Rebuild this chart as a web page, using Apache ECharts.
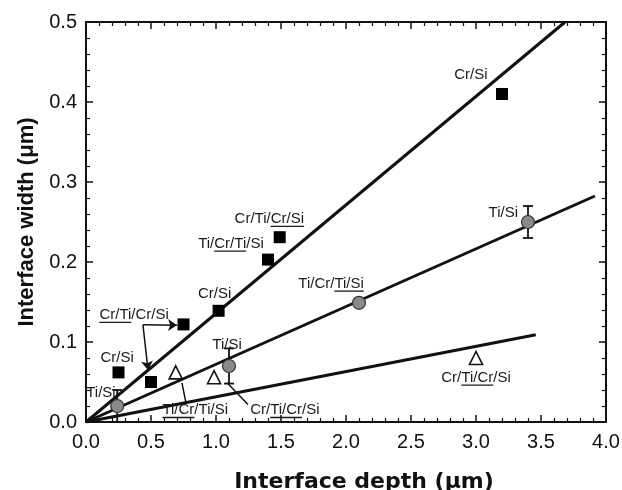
<!DOCTYPE html>
<html>
<head>
<meta charset="utf-8">
<script src="https://cdn.jsdelivr.net/npm/echarts/dist/echarts.min.js"></script>
<style>
  html, body { margin: 0; padding: 0; background: #fff; }
  #chart { width: 622px; height: 490px; }
</style>
</head>
<body>
<div id="chart"></div>
<script>
// Interface width versus interface depth (both in µm)

// Cr/Si interfaces (filled squares)
const crSiDepth = [0.25, 0.5, 0.75, 1.02, 1.4, 1.49, 3.2];
const crSiWidth = [0.062, 0.05, 0.122, 0.139, 0.203, 0.231, 0.41];

// Ti/Si interfaces (grey circles) with their uncertainty
const tiSiDepth = [0.24, 1.1, 2.1, 3.4];
const tiSiWidth = [0.02, 0.07, 0.149, 0.25];
const tiSiError = [0.02, 0.022, 0, 0.02];

// Cr/Ti/Cr/Si and Ti/Cr/Ti/Si stacks (open triangles)
const stackDepth = [0.69, 0.985, 3.0];
const stackWidth = [0.062, 0.056, 0.08];

// Linear fits through the origin, given by their end points
const fitCrSi = [[0, 0], [3.685, 0.5]];
const fitTiSi = [[0, 0], [3.915, 0.2825]];
const fitStack = [[0, 0], [3.46, 0.109]];

// Tick labels
const xTickLabels = ['0.0', '0.5', '1.0', '1.5', '2.0', '2.5', '3.0', '3.5', '4.0'];
const yTickLabels = ['0.0', '0.1', '0.2', '0.3', '0.4', '0.5'];

// Sample labels: text, underlined character range, anchor in data units
const labels = [
  { text: 'Cr/Si', ul: null, at: [2.96, 0.434] },
  { text: 'Ti/Si', ul: null, at: [3.21, 0.262] },
  { text: 'Ti/Cr/Ti/Si', ul: [6, 11], at: [1.885, 0.173] },
  { text: 'Cr/Ti/Cr/Si', ul: [6, 11], at: [1.41, 0.254] },
  { text: 'Ti/Cr/Ti/Si', ul: [3, 8], at: [1.115, 0.223] },
  { text: 'Cr/Si', ul: null, at: [0.99, 0.160] },
  { text: 'Cr/Ti/Cr/Si', ul: [0, 5], at: [0.37, 0.134] },
  { text: 'Cr/Si', ul: null, at: [0.24, 0.080] },
  { text: 'Ti/Si', ul: null, at: [0.115, 0.037] },
  { text: 'Ti/Si', ul: null, at: [1.085, 0.097] },
  { text: 'Ti/Cr/Ti/Si', ul: [0, 5], at: [0.84, 0.015] },
  { text: 'Cr/Ti/Cr/Si', ul: [3, 8], at: [1.53, 0.015] },
  { text: 'Cr/Ti/Cr/Si', ul: [3, 8], at: [3.0, 0.0555] }
];

// Leader lines from labels to their points
const leaders = [
  { from: [0.438, 0.1216], to: [0.70, 0.121], arrow: true },
  { from: [0.438, 0.1216], to: [0.477, 0.065], arrow: true },
  { from: [0.738, 0.049], to: [0.77, 0.023], arrow: false },
  { from: [1.085, 0.049], to: [1.246, 0.022], arrow: false }
];

const INK = '#111';
const LABEL_SIZE = 15;
const LABEL_FAMILY = '"Liberation Sans", Arial, sans-serif';
const measureCtx = document.createElement('canvas').getContext('2d');
measureCtx.font = LABEL_SIZE + 'px ' + LABEL_FAMILY;
const textWidth = s => measureCtx.measureText(s).width;

const zip = (xs, ys) => xs.map((x, i) => [x, ys[i]]);

const chart = echarts.init(document.getElementById('chart'), null, { renderer: 'canvas' });

const axisCommon = {
  type: 'value',
  axisLine: { show: true, onZero: false, lineStyle: { color: INK, width: 2 } },
  axisTick: { show: true, inside: true, length: 7, lineStyle: { color: INK, width: 1.5 } },
  minorTick: { show: true, splitNumber: 5, length: 4, lineStyle: { color: INK, width: 1.2 } },
  splitLine: { show: false },
  minorSplitLine: { show: false }
};

const option = {
  animation: false,
  backgroundColor: '#fff',
  grid: { left: 86, right: 16, top: 22, bottom: 68, containLabel: false, outerBoundsMode: 'none' },
  xAxis: [
    Object.assign({}, axisCommon, {
      position: 'bottom', min: 0, max: 4, interval: 0.5,
      axisLabel: {
        fontSize: 20, color: INK, margin: 10,
        fontFamily: '"Liberation Sans", Arial, sans-serif',
        formatter: v => xTickLabels[Math.round(v / 0.5)]
      },
      name: 'Interface depth (\u03bcm)',
      nameLocation: 'middle', nameGap: 49,
      nameTextStyle: {
        fontSize: 22, fontWeight: 'bold', color: INK,
        fontFamily: '"DejaVu Sans", sans-serif', padding: [0, 0, 0, 36]
      }
    }),
    Object.assign({}, axisCommon, {
      position: 'top', min: 0, max: 4, interval: 0.5,
      axisLabel: { show: false }
    })
  ],
  yAxis: [
    Object.assign({}, axisCommon, {
      position: 'left', min: 0, max: 0.5, interval: 0.1,
      axisLabel: {
        fontSize: 20, color: INK, margin: 9,
        fontFamily: '"Liberation Sans", Arial, sans-serif',
        formatter: v => yTickLabels[Math.round(v / 0.1)]
      },
      name: 'Interface width (\u03bcm)',
      nameLocation: 'middle', nameGap: 47,
      nameTextStyle: {
        fontSize: 22, fontWeight: 'bold', color: INK,
        fontFamily: '"Liberation Sans", Arial, sans-serif'
      }
    }),
    Object.assign({}, axisCommon, {
      position: 'right', min: 0, max: 0.5, interval: 0.1,
      axisLabel: { show: false }
    })
  ],
  series: [
    // fitted lines
    ...[fitCrSi, fitTiSi, fitStack].map(d => ({
      type: 'line', data: d, showSymbol: false, symbol: 'none', silent: true,
      lineStyle: { color: INK, width: 3 }, z: 2, clip: true
    })),
    // leader lines and arrows
    {
      type: 'line', data: [], silent: true, z: 3,
      markLine: {
        silent: true, animation: false,
        symbolSize: 9,
        label: { show: false },
        lineStyle: { color: INK, width: 1.5, type: 'solid' },
        data: leaders.map(l => [
          { coord: l.from, symbol: 'none' },
          { coord: l.to, symbol: l.arrow ? 'arrow' : 'none' }
        ])
      }
    },
    // error bars on Ti/Si points
    {
      type: 'custom', z: 4, silent: true, clip: false,
      data: tiSiDepth.map((x, i) => [x, tiSiWidth[i] - tiSiError[i], tiSiWidth[i] + tiSiError[i]]),
      renderItem: (params, api) => {
        const lo = api.coord([api.value(0), api.value(1)]);
        const hi = api.coord([api.value(0), api.value(2)]);
        if (Math.abs(hi[1] - lo[1]) < 1) return { type: 'group', children: [] };
        const cap = 5;
        const st = { stroke: INK, lineWidth: 1.8 };
        return {
          type: 'group',
          children: [
            { type: 'line', shape: { x1: lo[0], y1: lo[1], x2: hi[0], y2: hi[1] }, style: st },
            { type: 'line', shape: { x1: lo[0] - cap, y1: lo[1], x2: lo[0] + cap, y2: lo[1] }, style: st },
            { type: 'line', shape: { x1: hi[0] - cap, y1: hi[1], x2: hi[0] + cap, y2: hi[1] }, style: st }
          ]
        };
      }
    },
    {
      type: 'scatter', data: zip(crSiDepth, crSiWidth), symbol: 'rect', symbolSize: 12,
      itemStyle: { color: '#000', opacity: 1 }, z: 5
    },
    {
      type: 'scatter', data: zip(tiSiDepth, tiSiWidth), symbol: 'circle', symbolSize: 13,
      itemStyle: { color: '#8a8a8a', borderColor: '#333', borderWidth: 1.2, opacity: 1 }, z: 5
    },
    {
      type: 'scatter', data: zip(stackDepth, stackWidth), symbol: 'triangle', symbolSize: 13,
      itemStyle: { color: '#fff', borderColor: INK, borderWidth: 1.6, opacity: 1 }, z: 5
    },
    // sample labels with underlined layers
    {
      type: 'custom', z: 6, silent: true, clip: false,
      data: labels.map(l => l.at),
      renderItem: (params, api) => {
        const lab = labels[params.dataIndex];
        const p = api.coord([api.value(0), api.value(1)]);
        const w = textWidth(lab.text);
        const left = p[0] - w / 2;
        const children = [{
          type: 'text',
          style: {
            x: p[0], y: p[1], text: lab.text,
            fontSize: LABEL_SIZE, fontFamily: LABEL_FAMILY,
            fill: '#1a1a1a', align: 'center', verticalAlign: 'middle'
          }
        }];
        if (lab.ul) {
          const x0 = left + textWidth(lab.text.slice(0, lab.ul[0]));
          const x1 = left + textWidth(lab.text.slice(0, lab.ul[1]));
          const yU = p[1] + 7.5;
          children.push({
            type: 'line',
            shape: { x1: x0, y1: yU, x2: x1, y2: yU },
            style: { stroke: '#1a1a1a', lineWidth: 1.3 }
          });
        }
        return { type: 'group', children };
      }
    }
  ]
};

chart.setOption(option);
</script>
</body>
</html>
